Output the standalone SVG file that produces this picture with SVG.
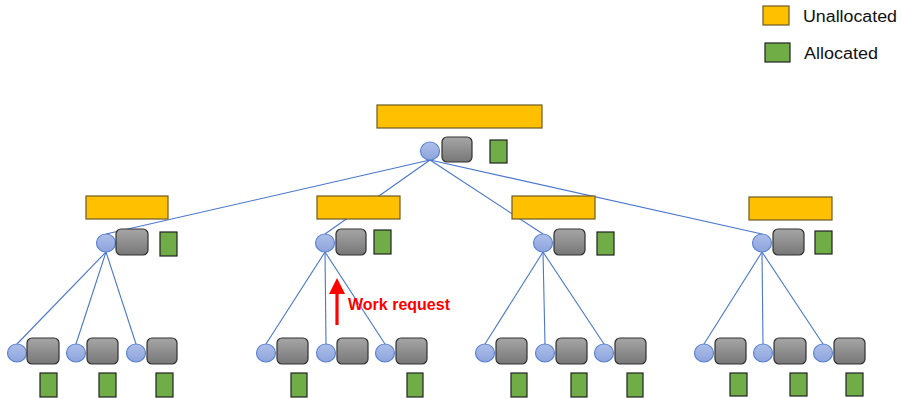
<svg xmlns="http://www.w3.org/2000/svg" width="903" height="398" viewBox="0 0 903 398">
  <defs>
    <linearGradient id="greyFill" x1="0" y1="0" x2="0" y2="1">
      <stop offset="0" stop-color="#a6a6a6"/>
      <stop offset="1" stop-color="#777777"/>
    </linearGradient>
    <linearGradient id="blueFill" x1="0" y1="0" x2="0" y2="1">
      <stop offset="0" stop-color="#aebfe9"/>
      <stop offset="1" stop-color="#8da4dc"/>
    </linearGradient>
  </defs>
  <style>
    .queue { fill: #ffc000; stroke: #6b5a22; stroke-width: 1.2; }
    .worker { fill: url(#greyFill); stroke: #303030; stroke-width: 1.2; }
    .alloc { fill: #70ad47; stroke: #222222; stroke-width: 1.2; }
    .port { fill: url(#blueFill); stroke: #5a82d2; stroke-width: 1.2; }
    .edge { stroke: #4a76cc; stroke-width: 1.1; fill: none; }
    .legend { font-family: "Liberation Sans", Arial, sans-serif; font-size: 16px; fill: #111111; }
    .note { font-family: "Liberation Sans", Arial, sans-serif; font-size: 16px; font-weight: bold; fill: #ff0000; }
  </style>

  <!-- legend -->
  <g id="legend">
    <rect class="queue" x="763" y="6" width="26" height="19"/>
    <text class="legend" x="803" y="22" textLength="94" lengthAdjust="spacingAndGlyphs">Unallocated</text>
    <rect class="alloc" x="765" y="43" width="25" height="19"/>
    <text class="legend" x="804" y="59" textLength="74" lengthAdjust="spacingAndGlyphs">Allocated</text>
  </g>

  <!-- tree edges -->
  <g id="connectors">
    <line class="edge" x1="430" y1="160" x2="106" y2="234"/>
    <line class="edge" x1="430" y1="160" x2="325" y2="234"/>
    <line class="edge" x1="430" y1="160" x2="543" y2="234"/>
    <line class="edge" x1="430" y1="160" x2="762" y2="234"/>

    <line class="edge" x1="106" y1="252" x2="17" y2="344"/>
    <line class="edge" x1="106" y1="252" x2="76" y2="344"/>
    <line class="edge" x1="106" y1="252" x2="136" y2="344"/>

    <line class="edge" x1="325" y1="252" x2="266" y2="344"/>
    <line class="edge" x1="325" y1="252" x2="326" y2="344"/>
    <line class="edge" x1="325" y1="252" x2="385" y2="344"/>

    <line class="edge" x1="543" y1="252" x2="485" y2="344"/>
    <line class="edge" x1="543" y1="252" x2="545" y2="344"/>
    <line class="edge" x1="543" y1="252" x2="604" y2="344"/>

    <line class="edge" x1="762" y1="252" x2="704" y2="344"/>
    <line class="edge" x1="762" y1="252" x2="763" y2="344"/>
    <line class="edge" x1="762" y1="252" x2="823" y2="344"/>
  </g>

  <!-- root -->
  <g id="root">
    <rect class="queue" x="377" y="105" width="165" height="23"/>
    <ellipse class="port" cx="430" cy="151" rx="9.5" ry="9"/>
    <rect class="worker" x="442" y="137" width="30" height="25" rx="5"/>
    <rect class="alloc" x="490" y="140" width="17" height="23"/>
  </g>

  <!-- middle level -->
  <g id="mid-1">
    <rect class="queue" x="86" y="196" width="82" height="23"/>
    <ellipse class="port" cx="106" cy="243" rx="9.5" ry="9"/>
    <rect class="worker" x="116" y="229" width="32" height="26" rx="5"/>
    <rect class="alloc" x="160" y="232" width="17" height="24"/>
  </g>
  <g id="mid-2">
    <rect class="queue" x="317" y="196" width="83" height="23"/>
    <ellipse class="port" cx="325" cy="243" rx="9.5" ry="9"/>
    <rect class="worker" x="336" y="229" width="30" height="26" rx="5"/>
    <rect class="alloc" x="374" y="230" width="17" height="24"/>
  </g>
  <g id="mid-3">
    <rect class="queue" x="512" y="196" width="83" height="23"/>
    <ellipse class="port" cx="543" cy="243" rx="9.5" ry="9"/>
    <rect class="worker" x="554" y="229" width="31" height="26" rx="5"/>
    <rect class="alloc" x="597" y="232" width="17" height="23"/>
  </g>
  <g id="mid-4">
    <rect class="queue" x="749" y="197" width="83" height="23"/>
    <ellipse class="port" cx="762" cy="243" rx="9.5" ry="9"/>
    <rect class="worker" x="773" y="229" width="31" height="26" rx="5"/>
    <rect class="alloc" x="815" y="231" width="17" height="23"/>
  </g>

  <!-- leaves -->
  <g id="leaf-1-1">
    <ellipse class="port" cx="17" cy="353" rx="9.5" ry="9"/>
    <rect class="worker" x="27" y="338" width="32" height="26" rx="5"/>
    <rect class="alloc" x="40" y="373" width="17" height="24"/>
  </g>
  <g id="leaf-1-2">
    <ellipse class="port" cx="76" cy="353" rx="9.5" ry="9"/>
    <rect class="worker" x="87" y="338" width="31" height="26" rx="5"/>
    <rect class="alloc" x="99" y="373" width="17" height="24"/>
  </g>
  <g id="leaf-1-3">
    <ellipse class="port" cx="136" cy="353" rx="9.5" ry="9"/>
    <rect class="worker" x="147" y="338" width="30" height="26" rx="5"/>
    <rect class="alloc" x="156" y="373" width="17" height="24"/>
  </g>

  <g id="leaf-2-1">
    <ellipse class="port" cx="266" cy="353" rx="9.5" ry="9"/>
    <rect class="worker" x="277" y="338" width="31" height="26" rx="5"/>
    <rect class="alloc" x="291" y="373" width="16" height="24"/>
  </g>
  <g id="leaf-2-2">
    <ellipse class="port" cx="326" cy="353" rx="9.5" ry="9"/>
    <rect class="worker" x="337" y="338" width="31" height="26" rx="5"/>
  </g>
  <g id="leaf-2-3">
    <ellipse class="port" cx="385" cy="353" rx="9.5" ry="9"/>
    <rect class="worker" x="396" y="338" width="31" height="26" rx="5"/>
    <rect class="alloc" x="407" y="373" width="16" height="24"/>
  </g>

  <g id="leaf-3-1">
    <ellipse class="port" cx="485" cy="353" rx="9.5" ry="9"/>
    <rect class="worker" x="496" y="338" width="31" height="26" rx="5"/>
    <rect class="alloc" x="511" y="373" width="16" height="24"/>
  </g>
  <g id="leaf-3-2">
    <ellipse class="port" cx="545" cy="353" rx="9.5" ry="9"/>
    <rect class="worker" x="556" y="338" width="31" height="26" rx="5"/>
    <rect class="alloc" x="571" y="373" width="16" height="24"/>
  </g>
  <g id="leaf-3-3">
    <ellipse class="port" cx="604" cy="353" rx="9.5" ry="9"/>
    <rect class="worker" x="615" y="338" width="31" height="26" rx="5"/>
    <rect class="alloc" x="627" y="373" width="16" height="24"/>
  </g>

  <g id="leaf-4-1">
    <ellipse class="port" cx="704" cy="353" rx="9.5" ry="9"/>
    <rect class="worker" x="715" y="338" width="31" height="26" rx="5"/>
    <rect class="alloc" x="730" y="373" width="17" height="23"/>
  </g>
  <g id="leaf-4-2">
    <ellipse class="port" cx="763" cy="353" rx="9.5" ry="9"/>
    <rect class="worker" x="774" y="338" width="32" height="26" rx="5"/>
    <rect class="alloc" x="790" y="373" width="17" height="23"/>
  </g>
  <g id="leaf-4-3">
    <ellipse class="port" cx="823" cy="353" rx="9.5" ry="9"/>
    <rect class="worker" x="834" y="338" width="31" height="26" rx="5"/>
    <rect class="alloc" x="846" y="373" width="17" height="23"/>
  </g>

  <!-- request travelling up the tree -->
  <g id="work-request">
    <line x1="337" y1="325" x2="337" y2="292" stroke="#ff0000" stroke-width="3.2"/>
    <polygon points="329,294 345,294 337,278" fill="#ff0000"/>
    <text class="note" x="348" y="310" textLength="102" lengthAdjust="spacingAndGlyphs">Work request</text>
  </g>
</svg>
